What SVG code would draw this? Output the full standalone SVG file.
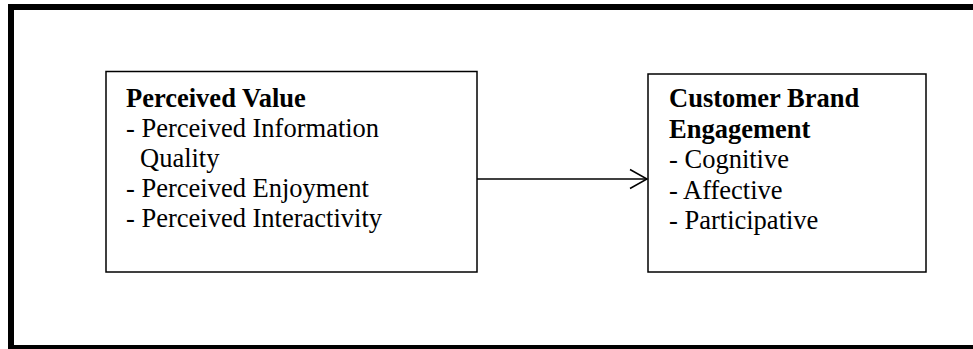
<svg xmlns="http://www.w3.org/2000/svg" width="973" height="349" viewBox="0 0 973 349">
<style>
.box{fill:#fff;stroke:#000;stroke-width:1.5}
.t{font-family:"Liberation Serif","Times New Roman",serif;font-size:26.5px;fill:#000}
.b{font-weight:bold}
.con{stroke:#000;stroke-width:1.5;fill:none}
</style>
<rect x="0" y="0" width="973" height="349" fill="#fff"/>
<rect id="frame" x="11" y="7" width="980" height="341" fill="none" stroke="#000" stroke-width="6"/>
<g id="perceived-value">
<rect class="box" x="106" y="71.5" width="371" height="200.5"/>
<text class="t"><tspan class="b" x="126" y="107">Perceived Value</tspan><tspan x="126" y="137">- Perceived Information</tspan><tspan x="140" y="167">Quality</tspan><tspan x="126" y="197">- Perceived Enjoyment</tspan><tspan x="126" y="227">- Perceived Interactivity</tspan></text>
</g>
<g id="customer-brand-engagement">
<rect class="box" x="648" y="74" width="278" height="198"/>
<text class="t"><tspan class="b" x="669" y="107">Customer Brand</tspan><tspan class="b" x="669" y="138">Engagement</tspan><tspan x="669" y="168">- Cognitive</tspan><tspan x="669" y="199">- Affective</tspan><tspan x="669" y="229">- Participative</tspan></text>
</g>
<g id="connectors">
<line class="con" x1="477" y1="179" x2="647" y2="179"/>
<polyline class="con" points="630,169.5 647,179 630,188.5"/>
</g>
</svg>
